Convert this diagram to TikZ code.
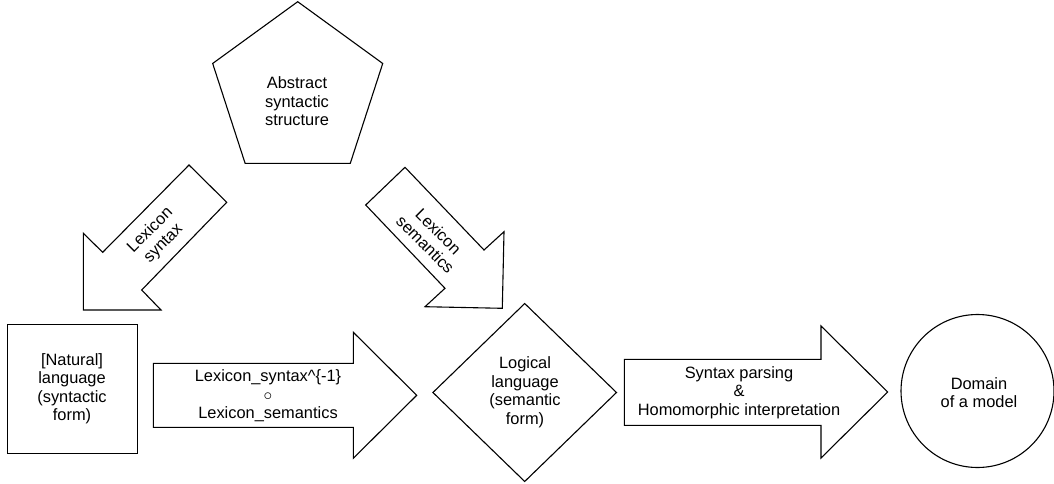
\documentclass[tikz,border=0pt]{standalone}
\usepackage{fontspec}
\setmainfont{Liberation Sans}
\usetikzlibrary{shapes.geometric}
\begin{document}
\begin{tikzpicture}[x=1pt,y=-1pt,
  shapeline/.style={draw=black, line width=1.1pt, line join=miter},
  lbl/.style={align=center, font=\fontsize{16.4}{18.5}\selectfont, inner sep=0pt},
]
\useasboundingbox (0,0) rectangle (1054,484);
% pentagon
\node[shapeline, regular polygon, regular polygon sides=5, minimum size=178.8pt, inner sep=0pt] (abs) at (297.7,91.1) {};
\node[lbl] (abst) at (297,101.5) {Abstract\\syntactic\\structure};
% square
\node[shapeline, rectangle, minimum width=129.7pt, minimum height=129.3pt, inner sep=0pt] (nat) at (72.2,388.7) {};
\node[lbl] (natt) at (72,389) {[Natural]\\language\\(syntactic\\form)};
% diamond
\node[shapeline, diamond, minimum width=184pt, minimum height=178.4pt, inner sep=0pt] (log) at (524.7,392.5) {};
\node[lbl] (logt) at (525,392.5) {Logical\\language\\(semantic\\form)};
% circle
\node[shapeline, circle, minimum size=153pt, inner sep=0pt] (dom) at (977.5,391) {};
\node[lbl] (domt) at (979,392.5) {Domain\\of a model};
% arrow Lexicon syntax
\draw[shapeline] (189,165) -- (102.7,252.3) -- (83.3,233.3) -- (83.3,310) -- (161,310) -- (141.7,290) -- (226.7,202.3) -- cycle;
\node[lbl, rotate=45] (lsyn) at (157,237) {Lexicon\\syntax};
% arrow Lexicon semantics
\draw[shapeline] (405,167.3) -- (484,250) -- (504,231.7) -- (502.3,308.3) -- (425,306.7) -- (445,288.3) -- (365.7,205) -- cycle;
\node[lbl, rotate=-45] (lsem) at (432,238) {Lexicon\\semantics};
% arrow composition
\draw[shapeline] (153.3,363.3) -- (353.3,363.3) -- (353.3,332.3) -- (416.7,395.3) -- (353.3,458.3) -- (353.3,427.3) -- (153.3,427.3) -- cycle;
\node[lbl] (comp) at (268,396) {Lexicon\_syntax\textasciicircum\{-1\}\\$\circ$\\Lexicon\_semantics};
% arrow parsing
\draw[shapeline] (624.3,359.3) -- (821,359.3) -- (821,326) -- (887.7,392) -- (821,458) -- (821,425.3) -- (624.3,425.3) -- cycle;
\node[lbl] (pars) at (739,392.5) {Syntax parsing\\\&\\Homomorphic interpretation};
\end{tikzpicture}
\end{document}
